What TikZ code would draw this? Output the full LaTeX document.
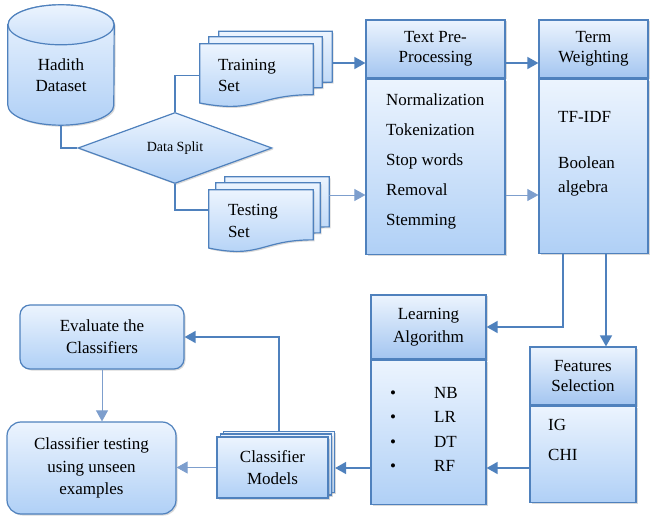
\documentclass[tikz,border=0pt]{standalone}
\usepackage{fontspec}
\setmainfont{Liberation Serif}
\usetikzlibrary{positioning, arrows.meta, shapes.geometric, shadows, calc}

\definecolor{bordblue}{RGB}{79,129,189}
\definecolor{filltop}{RGB}{236,244,254}
\definecolor{fillbot}{RGB}{176,208,246}
\definecolor{headbot}{RGB}{163,197,240}
\definecolor{thinblue}{RGB}{125,158,205}

\pgfdeclarelayer{background}
\pgfsetlayers{background,main}

% wavy page behind a node
\newcommand{\docpage}[1]{%
  \begin{pgfonlayer}{background}
  \shade[docfill] let \p1=(#1.north west), \p2=(#1.south east) in
    (\x1,\y1) -- (\x2,\y1) -- (\x2,{\y1+0.802*(\y2-\y1)})
    .. controls ({0.5*(\x1+\x2)},{\y1+0.802*(\y2-\y1)}) and ({0.5*(\x1+\x2)},{\y1+1.1075*(\y2-\y1)})
    .. (\x1,{\y1+0.934*(\y2-\y1)}) -- cycle;
  \end{pgfonlayer}}

\begin{document}
\begin{tikzpicture}[x=1pt, y=-1pt,
    font=\fontsize{17}{21.5}\selectfont,
    box/.style={draw=bordblue, line width=1.2pt, top color=filltop, bottom color=fillbot,
      drop shadow={shadow xshift=1.5pt, shadow yshift=-1.5pt, opacity=0.3},
      align=center, inner sep=0pt},
    head/.style={box, bottom color=headbot},
    docfill/.style={draw=bordblue, line width=1.2pt, top color=filltop, bottom color=fillbot,
      drop shadow={shadow xshift=1.5pt, shadow yshift=-1.5pt, opacity=0.3}},
    page/.style={align=left, inner ysep=0pt},
    listtext/.style={align=left, inner sep=0pt},
    line/.style={draw=bordblue, line width=1.2pt},
    arr/.style={draw=bordblue, line width=1.6pt, -{Triangle[length=11pt,width=12pt]}},
    thinarr/.style={draw=thinblue, line width=0.8pt, -{Triangle[length=11pt,width=12pt]}, color=thinblue}
    ]
\useasboundingbox (0,0) rectangle (658,526);

% dataset
\node[align=center, minimum width=106pt, minimum height=100pt, inner sep=0pt] (data) at (61,75) {Hadith\\Dataset};
\begin{pgfonlayer}{background}
\shade[docfill] (data.north west) -- ([yshift=20pt]data.south west)
  arc[start angle=180, end angle=360, x radius=53pt, y radius=20pt] -- (data.north east)
  arc[start angle=0, end angle=180, x radius=53pt, y radius=20pt] -- cycle;
\shade[draw=bordblue, line width=1.2pt, top color=filltop, bottom color=fillbot!60!filltop]
  (data.north) ellipse [x radius=53pt, y radius=20pt];
\end{pgfonlayer}

\node[box, diamond, minimum width=194pt, minimum height=71pt, aspect=2.7, font=\fontsize{14}{16}\selectfont] (split) at (175,148) {Data Split};

% training and testing sets
\node[page, minimum width=113pt, minimum height=63pt] (train3) at (275.5,63) {};
\node[page, minimum width=113pt, minimum height=63pt] (train2) at (265.5,68.5) {};
\node[page, inner xsep=18pt, text width=77pt, minimum height=63pt] (train) at (256.5,75.5) {Training\\Set};
\docpage{train3}
\docpage{train2}
\docpage{train}

\node[page, minimum width=104pt, minimum height=62pt] (test3) at (277,208) {};
\node[page, minimum width=104pt, minimum height=62pt] (test2) at (268,214) {};
\node[page, inner xsep=19pt, text width=66pt, minimum height=62pt] (test) at (261,221) {Testing\\Set};
\docpage{test3}
\docpage{test2}
\docpage{test}

% pre-processing and weighting
\node[head, minimum width=139pt, minimum height=58pt, font=\fontsize{17}{20}\selectfont] (tpph) at (435.5,49) {Text Pre-\\Processing};
\node[box, minimum width=139pt, minimum height=175pt, below=0pt of tpph] (tppb) {};
\node[listtext, anchor=north west, font=\fontsize{17}{30}\selectfont] (tpptext) at (386,94)
  {Normalization\\Tokenization\\Stop words\\Removal\\Stemming};

\node[head, minimum width=109pt, minimum height=58pt, font=\fontsize{17}{20}\selectfont] (twh) at (593.5,49) {Term\\Weighting};
\node[box, minimum width=109pt, minimum height=174pt, below=0pt of twh] (twb) {};
\node[listtext, anchor=north west, font=\fontsize{17}{24}\selectfont] (twtext) at (558,111)
  {TF-IDF\\[22pt]Boolean\\algebra};

% learning and features
\node[head, minimum width=115pt, minimum height=64pt, font=\fontsize{17}{22.5}\selectfont] (lah) at (428.5,327) {Learning\\Algorithm};
\node[box, minimum width=115pt, minimum height=144pt, below=0pt of lah] (lab) {};
\node[listtext, anchor=north west, font=\fontsize{17}{24.5}\selectfont] (latext) at (390,387)
  {\makebox[44pt][l]{\textbullet}NB\\\makebox[44pt][l]{\textbullet}LR\\\makebox[44pt][l]{\textbullet}DT\\\makebox[44pt][l]{\textbullet}RF};

\node[head, minimum width=106pt, minimum height=58pt, font=\fontsize{17}{20}\selectfont] (fsh) at (583,376) {Features\\Selection};
\node[box, minimum width=106pt, minimum height=96pt, below=0pt of fsh] (fsb) {};
\node[listtext, anchor=north west, font=\fontsize{17}{30}\selectfont] (fstext) at (548,419) {IG\\CHI};

% classifiers
\node[box, minimum width=111pt, minimum height=61pt] (cm3) at (279,462) {};
\node[box, minimum width=111pt, minimum height=61pt] (cm2) at (276,464.5) {};
\node[box, minimum width=111pt, minimum height=61pt, font=\fontsize{17}{22}\selectfont] (cm) at (272.5,467.5) {Classifier\\Models};

\node[box, rounded corners=10pt, minimum width=164pt, minimum height=64pt, font=\fontsize{17}{22}\selectfont] (eval) at (102,337) {Evaluate the\\Classifiers};
\node[box, rounded corners=14pt, minimum width=169pt, minimum height=92pt, font=\fontsize{17}{22.5}\selectfont] (ctest) at (91.5,468) {Classifier testing\\using unseen\\examples};

% connectors
\coordinate (lowrow) at (0,195);
\coordinate (botrow) at (0,468);
\draw[line] (data.south) |- (split.west);
\draw[line] (split.north) |- (train.west);
\draw[line] (split.south) |- ([yshift=11pt]test.west);
\draw[arr] (train3.east) -- (train3.east -| tpph.west);
\draw[thinarr] (test3.east |- lowrow) -- (tppb.west |- lowrow);
\draw[arr] (tpph.east |- train3.east) -- (twh.west |- train3.east);
\draw[thinarr] (tppb.east |- lowrow) -- (twb.west |- lowrow);
\draw[arr] ([xshift=-30.5pt]twb.south) |- (lah.east);
\draw[arr] ([xshift=12.5pt]twb.south) -- ([xshift=12.5pt]twb.south |- fsh.north);
\draw[arr] (fsb.west |- botrow) -- (lab.east |- botrow);
\draw[arr] (lab.west |- botrow) -- (cm3.east |- botrow);
\draw[arr] (cm3.north) |- (eval.east);
\draw[thinarr] (eval.south) -- (eval.south |- ctest.north);
\draw[thinarr] (cm.west) -- (cm.west -| ctest.east);
\end{tikzpicture}
\end{document}
